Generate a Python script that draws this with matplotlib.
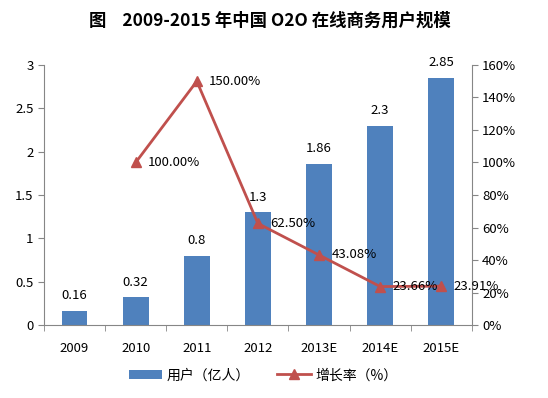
"""
O2O 在线商务用户规模 2009-2015 (柱状 + 增长率折线, 双 y 轴)
Output: out.png
"""
import matplotlib.pyplot as plt
from matplotlib.ticker import FixedLocator

plt.rcParams['font.family'] = ['Noto Sans CJK SC', 'DejaVu Sans']

years = ["2009", "2010", "2011", "2012", "2013E", "2014E", "2015E"]
users = [0.16, 0.32, 0.8, 1.3, 1.86, 2.3, 2.85]
growth = [None, 100.00, 150.00, 62.50, 43.08, 23.66, 23.91]

BLUE = "#4F81BD"
RED = "#C0504D"
AX_GREY = "#868686"

fig = plt.figure(figsize=(5.48, 3.98), dpi=100)
ax = fig.add_axes([0.0803, 0.1834, 0.7807, 0.6533])
ax2 = ax.twinx()

x = list(range(len(years)))
ax.bar(x, users, width=0.42, color=BLUE, zorder=2, label="用户（亿人）")
for xi, v in zip(x, users):
    ax.text(xi, v + 0.1, f"{v:g}", ha="center", va="bottom", fontsize=9.5)

gx = [xi for xi, g in zip(x, growth) if g is not None]
gy = [g for g in growth if g is not None]
ax2.plot(gx, gy, color=RED, lw=2, marker="^", ms=6.5, label="增长率（%）", zorder=3)
for xi, g in zip(gx, gy):
    ax2.text(xi + 0.2, g, f"{g:.2f}%", ha="left", va="center", fontsize=9.5)

ax.set_xlim(-0.5, 6.5)
ax.set_ylim(0, 3)
ax.set_yticks([0, 0.5, 1, 1.5, 2, 2.5, 3])
ax.set_yticklabels(["0", "0.5", "1", "1.5", "2", "2.5", "3"])
ax2.set_ylim(0, 160)
ax2.set_yticks(range(0, 161, 20))
ax2.set_yticklabels([f"{v}%" for v in range(0, 161, 20)])

ax.set_xticks(x)
ax.set_xticklabels(years)
ax.xaxis.set_minor_locator(FixedLocator([i - 0.5 for i in range(8)]))
ax.tick_params(axis="x", which="major", length=0, pad=12, labelsize=9.5)
ax.tick_params(axis="x", which="minor", length=4, color=AX_GREY)
ax.tick_params(axis="y", length=4, color=AX_GREY, labelsize=9.5)
ax2.tick_params(axis="y", length=4, color=AX_GREY, labelsize=9.5)

for a in (ax, ax2):
    a.spines["top"].set_visible(False)
    for s in ("left", "right", "bottom"):
        a.spines[s].set_color(AX_GREY)
ax2.spines["left"].set_visible(False)
ax2.spines["bottom"].set_visible(False)
ax.spines["right"].set_visible(False)

fig.text(0.493, 0.948, "图    2009-2015 年中国 O2O 在线商务用户规模",
         ha="center", va="center", fontsize=12.5, fontweight="bold")

h1, l1 = ax.get_legend_handles_labels()
h2, l2 = ax2.get_legend_handles_labels()
fig.legend(h1 + h2, l1 + l2, loc="center", bbox_to_anchor=(0.48, 0.057),
           ncol=2, frameon=False, fontsize=10, handlelength=2.4,
           columnspacing=2.0, handletextpad=0.3)

fig.savefig("out.png", dpi=100)
